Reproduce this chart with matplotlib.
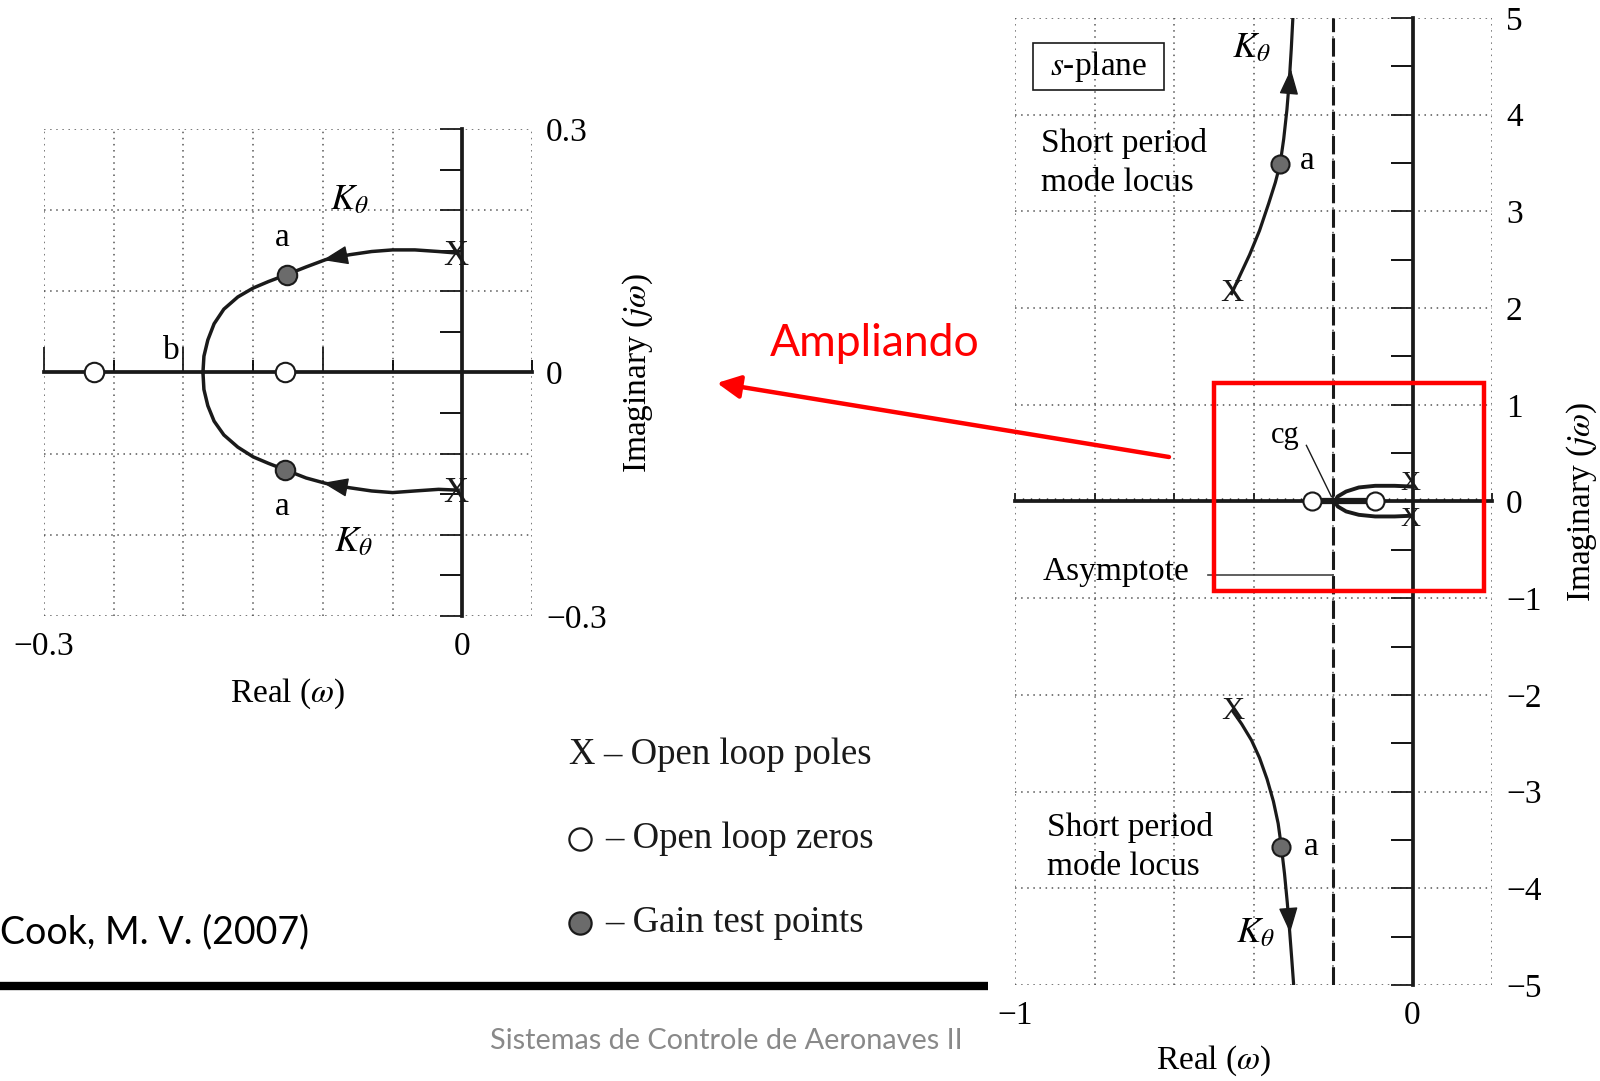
import matplotlib
matplotlib.use('Agg')
import matplotlib.pyplot as plt
from matplotlib.ticker import MultipleLocator
from matplotlib.patches import Rectangle

plt.rcParams['font.family'] = 'serif'
plt.rcParams['font.serif'] = ['Liberation Serif', 'DejaVu Serif']
plt.rcParams['mathtext.fontset'] = 'stix'

# phugoid close-up (left plot)
phug_pole_re = [-0.005, -0.005]
phug_pole_im = [0.143, -0.149]
phug_zero_re = [-0.264, -0.127]
phug_gain_re = [-0.126, -0.127]
phug_gain_im = [0.1205, -0.120]
phug_up_re = [-0.003, -0.017, -0.034, -0.050, -0.065, -0.081, -0.098, -0.112, -0.126,
              -0.139, -0.150, -0.161, -0.171, -0.178, -0.1825, -0.1853, -0.186]
phug_up_im = [0.147, 0.149, 0.151, 0.151, 0.149, 0.145, 0.139, 0.130, 0.1205,
              0.112, 0.104, 0.093, 0.078, 0.060, 0.040, 0.020, 0.0]
phug_lo_re = [-0.003, -0.017, -0.034, -0.050, -0.065, -0.081, -0.098, -0.112, -0.127,
              -0.139, -0.150, -0.161, -0.171, -0.178, -0.1825, -0.1853, -0.186]
phug_lo_im = [-0.145, -0.144, -0.146, -0.148, -0.146, -0.142, -0.1366, -0.130, -0.120,
              -0.112, -0.104, -0.092, -0.077, -0.060, -0.041, -0.021, 0.0]
phug_arrow_up = [(-0.080, 0.1455), (-0.100, 0.1385)]
phug_arrow_lo = [(-0.080, -0.1425), (-0.100, -0.136)]
left_xticks = [-0.3, 0.0]
left_xticklabels = ['\u22120.3', '0']
left_yticks = [-0.3, 0.0, 0.3]
left_yticklabels = ['\u22120.3', '0', '0.3']

# full s-plane (right plot)
sp_up_re = [-0.455, -0.435, -0.41, -0.385, -0.362, -0.345, -0.333, -0.324, -0.316, -0.310, -0.305, -0.301]
sp_up_im = [2.15, 2.33, 2.55, 2.80, 3.08, 3.30, 3.49, 3.75, 4.05, 4.35, 4.68, 5.0]
sp_lo_re = [-0.452, -0.43, -0.405, -0.385, -0.366, -0.350, -0.338, -0.330, -0.322, -0.315, -0.309, -0.304, -0.299]
sp_lo_im = [-2.17, -2.30, -2.47, -2.65, -2.87, -3.10, -3.33, -3.57, -3.85, -4.15, -4.45, -4.72, -5.0]
sp_pole_re = [-0.455, -0.452]
sp_pole_im = [2.15, -2.17]
sp_gain_re = [-0.333, -0.330]
sp_gain_im = [3.49, -3.57]
sp_arrow_up = [(-0.311, 4.22), (-0.306, 4.47)]
sp_arrow_lo = [(-0.313, -4.18), (-0.308, -4.46)]
ph_pole_re = [-0.005, -0.005]
ph_pole_im = [0.19, -0.19]
ph_zero_re = [-0.253, -0.094]
ph_up_re = [-0.005, -0.045, -0.094, -0.135, -0.167, -0.188, -0.196]
ph_up_im = [0.155, 0.162, 0.162, 0.145, 0.103, 0.052, 0.0]
ph_lo_re = ph_up_re
ph_lo_im = [-0.148, -0.155, -0.155, -0.138, -0.103, -0.052, 0.0]
asymptote_re = -0.2
zoom_box = (-0.5, -0.93, 0.68, 2.16)
right_xticks = [-1, 0]
right_xticklabels = ['\u22121', '0']
right_yticks = [-5, -4, -3, -2, -1, 0, 1, 2, 3, 4, 5]
right_yticklabels = ['\u22125', '\u22124', '\u22123', '\u22122', '\u22121', '0', '1', '2', '3', '4', '5']

INK = '#1a1a1a'
GRID = dict(color='#555555', linestyle=(0, (1, 3)), linewidth=1.1)
FS = 24
KFS = 26

fig = plt.figure(figsize=(16, 10.81), dpi=100)


def setup_axes(ax, xlim, ylim):
    ax.set_xlim(*xlim)
    ax.set_ylim(*ylim)
    for side in ('top', 'right'):
        ax.spines[side].set_visible(False)
    for side in ('left', 'bottom'):
        ax.spines[side].set_position(('data', 0))
        ax.spines[side].set_linewidth(2.7)
        ax.spines[side].set_color(INK)
        ax.spines[side].set_zorder(3)
    ax.tick_params(labelbottom=False, labelleft=False, color=INK)
    ax.set_axisbelow(True)


def tick_labels(ax, xt, xl, yt, yl):
    sx = ax.secondary_xaxis('bottom')
    sx.set_xticks(xt, labels=xl)
    sx.spines['bottom'].set_visible(False)
    sx.tick_params(length=0, pad=11, labelsize=FS)
    sy = ax.secondary_yaxis('right')
    sy.set_yticks(yt, labels=yl)
    sy.spines['right'].set_visible(False)
    sy.tick_params(length=0, pad=10, labelsize=FS)


def arrowhead(ax, pts):
    ax.annotate('', xy=pts[1], xytext=pts[0],
                arrowprops=dict(arrowstyle='-|>,head_length=0.8,head_width=0.3',
                                mutation_scale=20, color=INK, lw=1,
                                shrinkA=0, shrinkB=0), zorder=5)


# ---------------- left: phugoid detail ----------------
axL = fig.add_axes([0.0275, 0.4302, 0.305, 0.4505])
setup_axes(axL, (-0.3, 0.05), (-0.3, 0.3))
axL.xaxis.set_major_locator(MultipleLocator(0.1))
axL.xaxis.set_minor_locator(MultipleLocator(0.05))
axL.yaxis.set_major_locator(MultipleLocator(0.1))
axL.yaxis.set_minor_locator(MultipleLocator(0.05))
axL.tick_params(axis='x', which='major', direction='in', length=18, width=1.3)
axL.tick_params(axis='x', which='minor', direction='in', length=9, width=1.3)
axL.tick_params(axis='y', which='both', direction='out', length=16, width=1.3)
axL.xaxis.grid(True, which='both', **GRID)
axL.yaxis.grid(True, which='major', **GRID)
tick_labels(axL, left_xticks, left_xticklabels, left_yticks, left_yticklabels)

axL.plot(phug_up_re, phug_up_im, color=INK, lw=2.5, zorder=4)
axL.plot(phug_lo_re, phug_lo_im, color=INK, lw=2.5, zorder=4)
arrowhead(axL, phug_arrow_up)
arrowhead(axL, phug_arrow_lo)
axL.plot(phug_zero_re, [0, 0], 'o', ms=14, mfc='white', mec=INK, mew=1.5, zorder=6)
axL.plot(phug_gain_re, phug_gain_im, 'o', ms=14, mfc='#6b6b6b', mec=INK, mew=1.5, zorder=6)
for re, im in zip(phug_pole_re, phug_pole_im):
    axL.text(re, im, 'X', fontsize=25, ha='center', va='center', color=INK, zorder=7)

axL.text(-0.081, 0.212, r'$K_{\theta}$', fontsize=KFS, ha='center', va='center')
axL.text(-0.078, -0.210, r'$K_{\theta}$', fontsize=KFS, ha='center', va='center')
axL.text(-0.129, 0.166, 'a', fontsize=FS, ha='center', va='center')
axL.text(-0.129, -0.166, 'a', fontsize=FS, ha='center', va='center')
axL.text(-0.209, 0.027, 'b', fontsize=FS, ha='center', va='center')
axL.text(0.5, -0.160, r'Real ($\omega$)', fontsize=FS, ha='center', va='center',
         transform=axL.transAxes)
axL.text(1.217, 0.5, r'Imaginary ($j\omega$)', fontsize=FS, ha='center', va='center',
         rotation=90, transform=axL.transAxes)

# ---------------- right: full s-plane ----------------
axR = fig.add_axes([0.6344, 0.0888, 0.2981, 0.8946])
setup_axes(axR, (-1, 0.2), (-5, 5))
axR.xaxis.set_major_locator(MultipleLocator(0.2))
axR.xaxis.set_minor_locator(MultipleLocator(0.02))
axR.yaxis.set_major_locator(MultipleLocator(1))
axR.yaxis.set_minor_locator(MultipleLocator(0.5))
axR.tick_params(axis='x', which='major', direction='in', length=6, width=1.3)
axR.tick_params(axis='x', which='minor', direction='in', length=2, width=1)
axR.tick_params(axis='y', which='both', direction='out', length=16, width=1.3)
axR.xaxis.grid(True, which='major', **GRID)
axR.yaxis.grid(True, which='major', **GRID)
tick_labels(axR, right_xticks, right_xticklabels, right_yticks, right_yticklabels)

axR.axvline(asymptote_re, color=INK, lw=2.2, linestyle=(0, (6, 2)), zorder=2)

axR.plot(sp_up_re, sp_up_im, color=INK, lw=2.3, zorder=4)
axR.plot(sp_lo_re, sp_lo_im, color=INK, lw=2.3, zorder=4)
arrowhead(axR, sp_arrow_up)
arrowhead(axR, sp_arrow_lo)
axR.plot(sp_gain_re, sp_gain_im, 'o', ms=13, mfc='#6b6b6b', mec=INK, mew=1.5, zorder=6)
for re, im in zip(sp_pole_re, sp_pole_im):
    axR.text(re, im, 'X', fontsize=23, ha='center', va='center', color=INK, zorder=7)

# phugoid locus squeezed near the origin
axR.plot(ph_zero_re, [0, 0], color=INK, lw=4.5, zorder=4, solid_capstyle='butt')
axR.plot(ph_up_re, ph_up_im, color=INK, lw=2.8, zorder=4)
axR.plot(ph_lo_re, ph_lo_im, color=INK, lw=2.8, zorder=4)
axR.plot(ph_zero_re, [0, 0], 'o', ms=13, mfc='white', mec=INK, mew=1.5, zorder=6)
for re, im in zip(ph_pole_re, ph_pole_im):
    axR.text(re, im, 'X', fontsize=20, ha='center', va='center', color=INK, zorder=7)

axR.add_patch(Rectangle((-0.955, 4.26), 0.33, 0.48, fill=False, ec=INK, lw=1.2, zorder=5))
axR.text(-0.79, 4.5, r'$s$-plane', fontsize=FS, ha='center', va='center', zorder=6)
axR.text(-0.935, 3.50, 'Short period\nmode locus', fontsize=FS, ha='left', va='center',
         linespacing=1.38)
axR.text(-0.92, -3.57, 'Short period\nmode locus', fontsize=FS, ha='left', va='center',
         linespacing=1.38)
axR.text(-0.265, 3.52, 'a', fontsize=FS, ha='center', va='center')
axR.text(-0.255, -3.57, 'a', fontsize=FS, ha='center', va='center')
axR.text(-0.405, 4.68, r'$K_{\theta}$', fontsize=KFS, ha='center', va='center')
axR.text(-0.395, -4.47, r'$K_{\theta}$', fontsize=KFS, ha='center', va='center')
axR.text(-0.32, 0.68, 'cg', fontsize=22, ha='center', va='center')
axR.plot([-0.267, -0.204], [0.58, 0.05], color=INK, lw=1, zorder=4)
axR.text(-0.745, -0.73, 'Asymptote', fontsize=FS, ha='center', va='center')
axR.plot([-0.515, asymptote_re], [-0.76, -0.76], color='#444444', lw=1.2, zorder=4)

axR.add_patch(Rectangle(zoom_box[:2], zoom_box[2], zoom_box[3], fill=False,
                        ec='#ff0000', lw=3.2, zorder=8))
axR.text(0.417, -0.0786, r'Real ($\omega$)', fontsize=FS, ha='center', va='center',
         transform=axR.transAxes)
axR.text(1.189, 0.5, r'Imaginary ($j\omega$)', fontsize=FS, ha='center', va='center',
         rotation=90, transform=axR.transAxes)

# ---------------- page overlay (pixel coordinates) ----------------
ov = fig.add_axes([0, 0, 1, 1], zorder=10)
ov.set_xlim(0, 1600)
ov.set_ylim(1081, 0)
ov.axis('off')

ov.annotate('', xy=(717, 383), xytext=(1169, 457),
            arrowprops=dict(arrowstyle='-|>,head_length=0.7,head_width=0.35',
                            mutation_scale=20, color='#ff0000', lw=3.2,
                            shrinkA=0, shrinkB=0))
ov.text(875, 344, 'Ampliando', fontsize=32, color='#ff0000', family='Lato',
        ha='center', va='center')

# marker key
ov.text(581, 755, 'X', fontsize=26.5, ha='center', va='center', color=INK)
ov.text(603, 755, '\u2013 Open loop poles', fontsize=26.5, ha='left', va='center', color=INK)
ov.plot([580], [839], 'o', ms=16, mfc='white', mec=INK, mew=1.6)
ov.text(605, 839, '\u2013 Open loop zeros', fontsize=26.5, ha='left', va='center', color=INK)
ov.plot([580], [923], 'o', ms=16, mfc='#6b6b6b', mec=INK, mew=1.6)
ov.text(605, 923, '\u2013 Gain test points', fontsize=26.5, ha='left', va='center', color=INK)

ov.text(0, 932, 'Cook, M. V. (2007)', fontsize=27, family='Lato', ha='left', va='center',
        color='black')
ov.plot([0, 988], [986, 986], color='black', lw=6, solid_capstyle='butt')
ov.text(726, 1041, 'Sistemas de Controle de Aeronaves II', fontsize=20.8, family='Lato',
        ha='center', va='center', color='#898989')

fig.savefig('out.png', dpi=100)
